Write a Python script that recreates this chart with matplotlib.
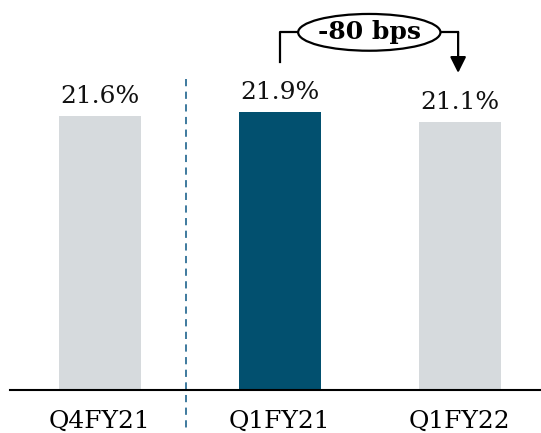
import matplotlib.pyplot as plt
from matplotlib.patches import Ellipse

periods = ['Q4FY21', 'Q1FY21', 'Q1FY22']
margin = [21.6, 21.9, 21.1]
bar_colors = ['#d6dadd', '#02506f', '#d6dadd']
change_label = '-80 bps'

plt.rcParams['font.family'] = 'DejaVu Serif'

fig = plt.figure(figsize=(5.41, 4.33), dpi=100)
ax = fig.add_axes([9.5 / 541, 43 / 433, 531.5 / 541, 390 / 433])

x = list(range(len(periods)))
bars = ax.bar(x, margin, width=0.455, color=bar_colors)

for b, v in zip(bars, margin):
    ax.annotate(f'{v}%', (b.get_x() + b.get_width() / 2, v),
                xytext=(0, 6), textcoords='offset points',
                ha='center', va='bottom', fontsize=18, color='#111111')

ax.set_xlim(-0.5, 2.45)
ax.set_ylim(0, 30.75)
ax.set_xticks(x)
ax.set_xticklabels(periods, fontsize=18)
ax.tick_params(axis='x', length=0, pad=14)
ax.set_yticks([])
for s in ['top', 'right', 'left']:
    ax.spines[s].set_visible(False)
ax.spines['bottom'].set_linewidth(1.5)
ax.spines['bottom'].set_color('black')

# dashed separator
ax.plot([0.48, 0.48], [24.5, -3.2], ls=(0, (4, 3)), lw=1.3,
        color='#2f6f96', clip_on=False)

# change bracket
ax.plot([1.0, 1.0, 1.1], [25.9, 28.2, 28.2], color='black', lw=1.6, clip_on=False)
ax.annotate('', xy=(1.99, 25.0), xytext=(1.99, 28.2),
            arrowprops=dict(arrowstyle='-|>', color='black', lw=1.6,
                            mutation_scale=24, shrinkA=0, shrinkB=0))
ax.plot([1.89, 1.99], [28.2, 28.2], color='black', lw=1.6, clip_on=False)
ell = Ellipse((1.497, 28.2), 0.79, 2.9, facecolor='white', edgecolor='black',
              lw=1.6, clip_on=False, zorder=3)
ax.add_patch(ell)
ax.text(1.497, 28.2, change_label, ha='center', va='center', fontsize=18,
        fontweight='bold', zorder=4)

plt.savefig('out.png', dpi=100)
